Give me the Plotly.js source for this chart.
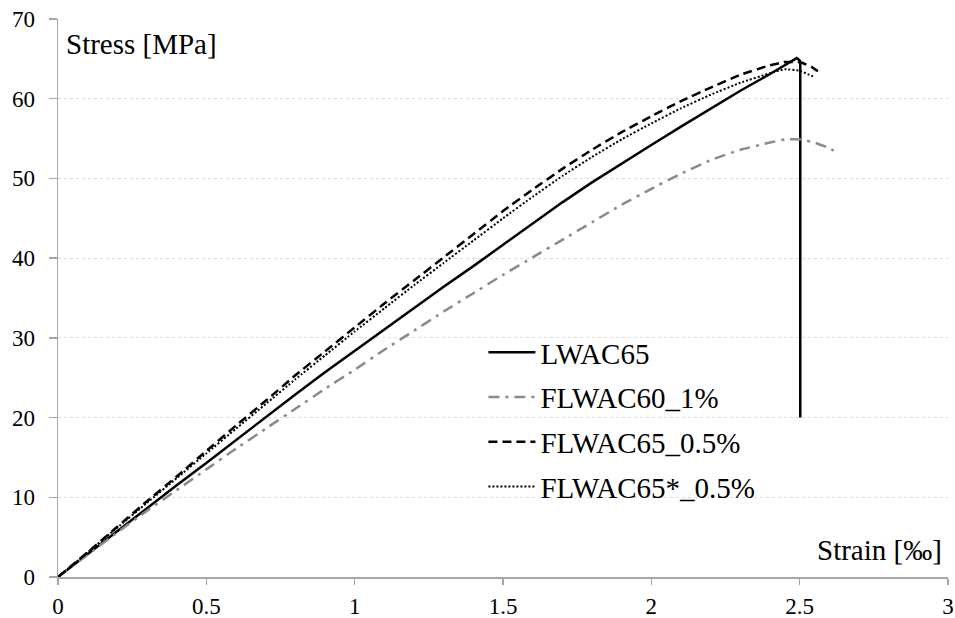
<!DOCTYPE html>
<html>
<head>
<meta charset="utf-8">
<script src="https://cdn.plot.ly/plotly-3.0.1.min.js"></script>
<style>
html,body{margin:0;padding:0;background:#fff;}
#chart{width:955px;height:618px;}
</style>
</head>
<body>
<div id="chart"></div>
<script>
// ---- data ----
const seriesNames = ["LWAC65", "FLWAC60_1%", "FLWAC65_0.5%", "FLWAC65*_0.5%"];

const lwac65Strain = [0,0.1,0.2,0.3,0.4,0.5,0.6,0.7,0.8,0.9,1.0,1.1,1.2,1.3,1.4,1.5,1.6,1.7,1.8,1.9,2.0,2.1,2.2,2.3,2.4,2.49,2.5,2.502,2.502];
const lwac65Stress = [0,2.9,5.8,8.6,11.5,14.3,17.2,20.0,22.9,25.7,28.4,31.1,33.8,36.4,39.0,41.7,44.4,47.0,49.5,51.9,54.2,56.5,58.8,61.0,63.1,65.1,64.8,64.3,20.0];

const flwac60Strain = [0,0.1,0.2,0.3,0.4,0.5,0.6,0.7,0.8,0.9,1.0,1.1,1.2,1.3,1.4,1.5,1.6,1.7,1.8,1.9,2.0,2.1,2.2,2.3,2.4,2.45,2.5,2.55,2.6,2.628];
const flwac60Stress = [0,2.8,5.6,8.3,10.9,13.5,16.1,18.6,21.1,23.6,26.0,28.5,30.9,33.3,35.6,37.9,40.1,42.3,44.5,46.7,48.7,50.6,52.3,53.6,54.5,54.9,54.9,54.5,53.8,53.2];

const flwac65Strain = [0,0.1,0.2,0.3,0.4,0.5,0.6,0.7,0.8,0.9,1.0,1.1,1.2,1.3,1.4,1.5,1.6,1.7,1.8,1.9,2.0,2.1,2.2,2.3,2.4,2.45,2.5,2.54,2.57];
const flwac65Stress = [0,3.1,6.3,9.5,12.6,15.8,19.0,22.1,25.3,28.3,31.3,34.3,37.2,40.1,43.0,45.9,48.6,51.2,53.6,55.8,57.8,59.7,61.4,63.0,64.2,64.6,64.6,64.0,63.2];

const flwac65sStrain = [0,0.1,0.2,0.3,0.4,0.5,0.6,0.7,0.8,0.9,1.0,1.1,1.2,1.3,1.4,1.5,1.6,1.7,1.8,1.9,2.0,2.1,2.2,2.3,2.4,2.45,2.5,2.545];
const flwac65sStress = [0,3.1,6.2,9.3,12.4,15.5,18.6,21.7,24.8,27.8,30.8,33.7,36.6,39.4,42.2,45.0,47.7,50.3,52.7,54.9,56.9,58.8,60.5,62.0,63.2,63.7,63.5,62.8];

const xTickVals = [0,0.5,1,1.5,2,2.5,3];
const xTickText = ["0","0.5","1","1.5","2","2.5","3"];
const yTickVals = [0,10,20,30,40,50,60,70];
const yTickText = ["0","10","20","30","40","50","60","70"];

const yLabel = "Stress [MPa]";
const xLabel = "Strain [‰]";

// ---- styles ----
const FONT = "Liberation Serif";
const styles = [
  {color:"#000000", width:2.5, dash:"solid"},
  {color:"#8a8a8a", width:2.5, dash:"11px,6px,3px,6px"},
  {color:"#000000", width:2.5, dash:"9px,5px"},
  {color:"#000000", width:2, dash:"2px,2px"}
];
const xs = [lwac65Strain, flwac60Strain, flwac65Strain, flwac65sStrain];
const ys = [lwac65Stress, flwac60Stress, flwac65Stress, flwac65sStress];

const traces = seriesNames.map((n,i)=>({
  type:"scatter", mode:"lines", name:n, legendgroup:n,
  x:xs[i], y:ys[i],
  line:{color:styles[i].color, width:styles[i].width, dash:styles[i].dash, shape:"spline", smoothing:0.3},
  hoverinfo:"skip"
}));
traces[0].line.shape = "linear";

const layout = {
  width:955, height:618,
  margin:{l:58, r:7, t:19, b:40.5, pad:0},
  paper_bgcolor:"#ffffff", plot_bgcolor:"#ffffff",
  font:{family:FONT, size:23, color:"#000"},
  showlegend:true,
  legend:{
    x:0.478, y:0.448, xanchor:"left", yanchor:"top",
    bgcolor:"rgba(0,0,0,0)", borderwidth:0,
    font:{family:FONT, size:29, color:"#000"},
    tracegroupgap:4, itemwidth:47, traceorder:"grouped"
  },
  xaxis:{
    range:[0,3], tickvals:xTickVals, ticktext:xTickText,
    showgrid:false, zeroline:false,
    showline:true, linecolor:"#a6a6a6", linewidth:1.5,
    ticks:"outside", ticklen:6, tickcolor:"#a6a6a6", tickwidth:1.5,
    ticklabelstandoff:2,
    tickfont:{family:FONT, size:23, color:"#000"},
    fixedrange:true
  },
  yaxis:{
    range:[0,70], tickvals:yTickVals, ticktext:yTickText,
    showgrid:true, gridcolor:"#dcdcdc", gridwidth:1, griddash:"dot",
    zeroline:false,
    showline:true, linecolor:"#a6a6a6", linewidth:1.5,
    ticks:"outside", ticklen:8, tickcolor:"#a6a6a6", tickwidth:1.5,
    ticklabelstandoff:9,
    tickfont:{family:FONT, size:23, color:"#000"},
    fixedrange:true
  },
  annotations:[
    {text:yLabel, xref:"paper", yref:"paper", x:0.0067, y:0.956, xanchor:"left", yanchor:"middle",
     showarrow:false, font:{family:FONT, size:29, color:"#000"}},
    {text:xLabel, xref:"paper", yref:"paper", x:0.996, y:0.049, xanchor:"right", yanchor:"middle",
     showarrow:false, font:{family:FONT, size:29, color:"#000"}}
  ]
};

Plotly.newPlot("chart", traces, layout, {displayModeBar:false, staticPlot:true});
</script>
</body>
</html>
